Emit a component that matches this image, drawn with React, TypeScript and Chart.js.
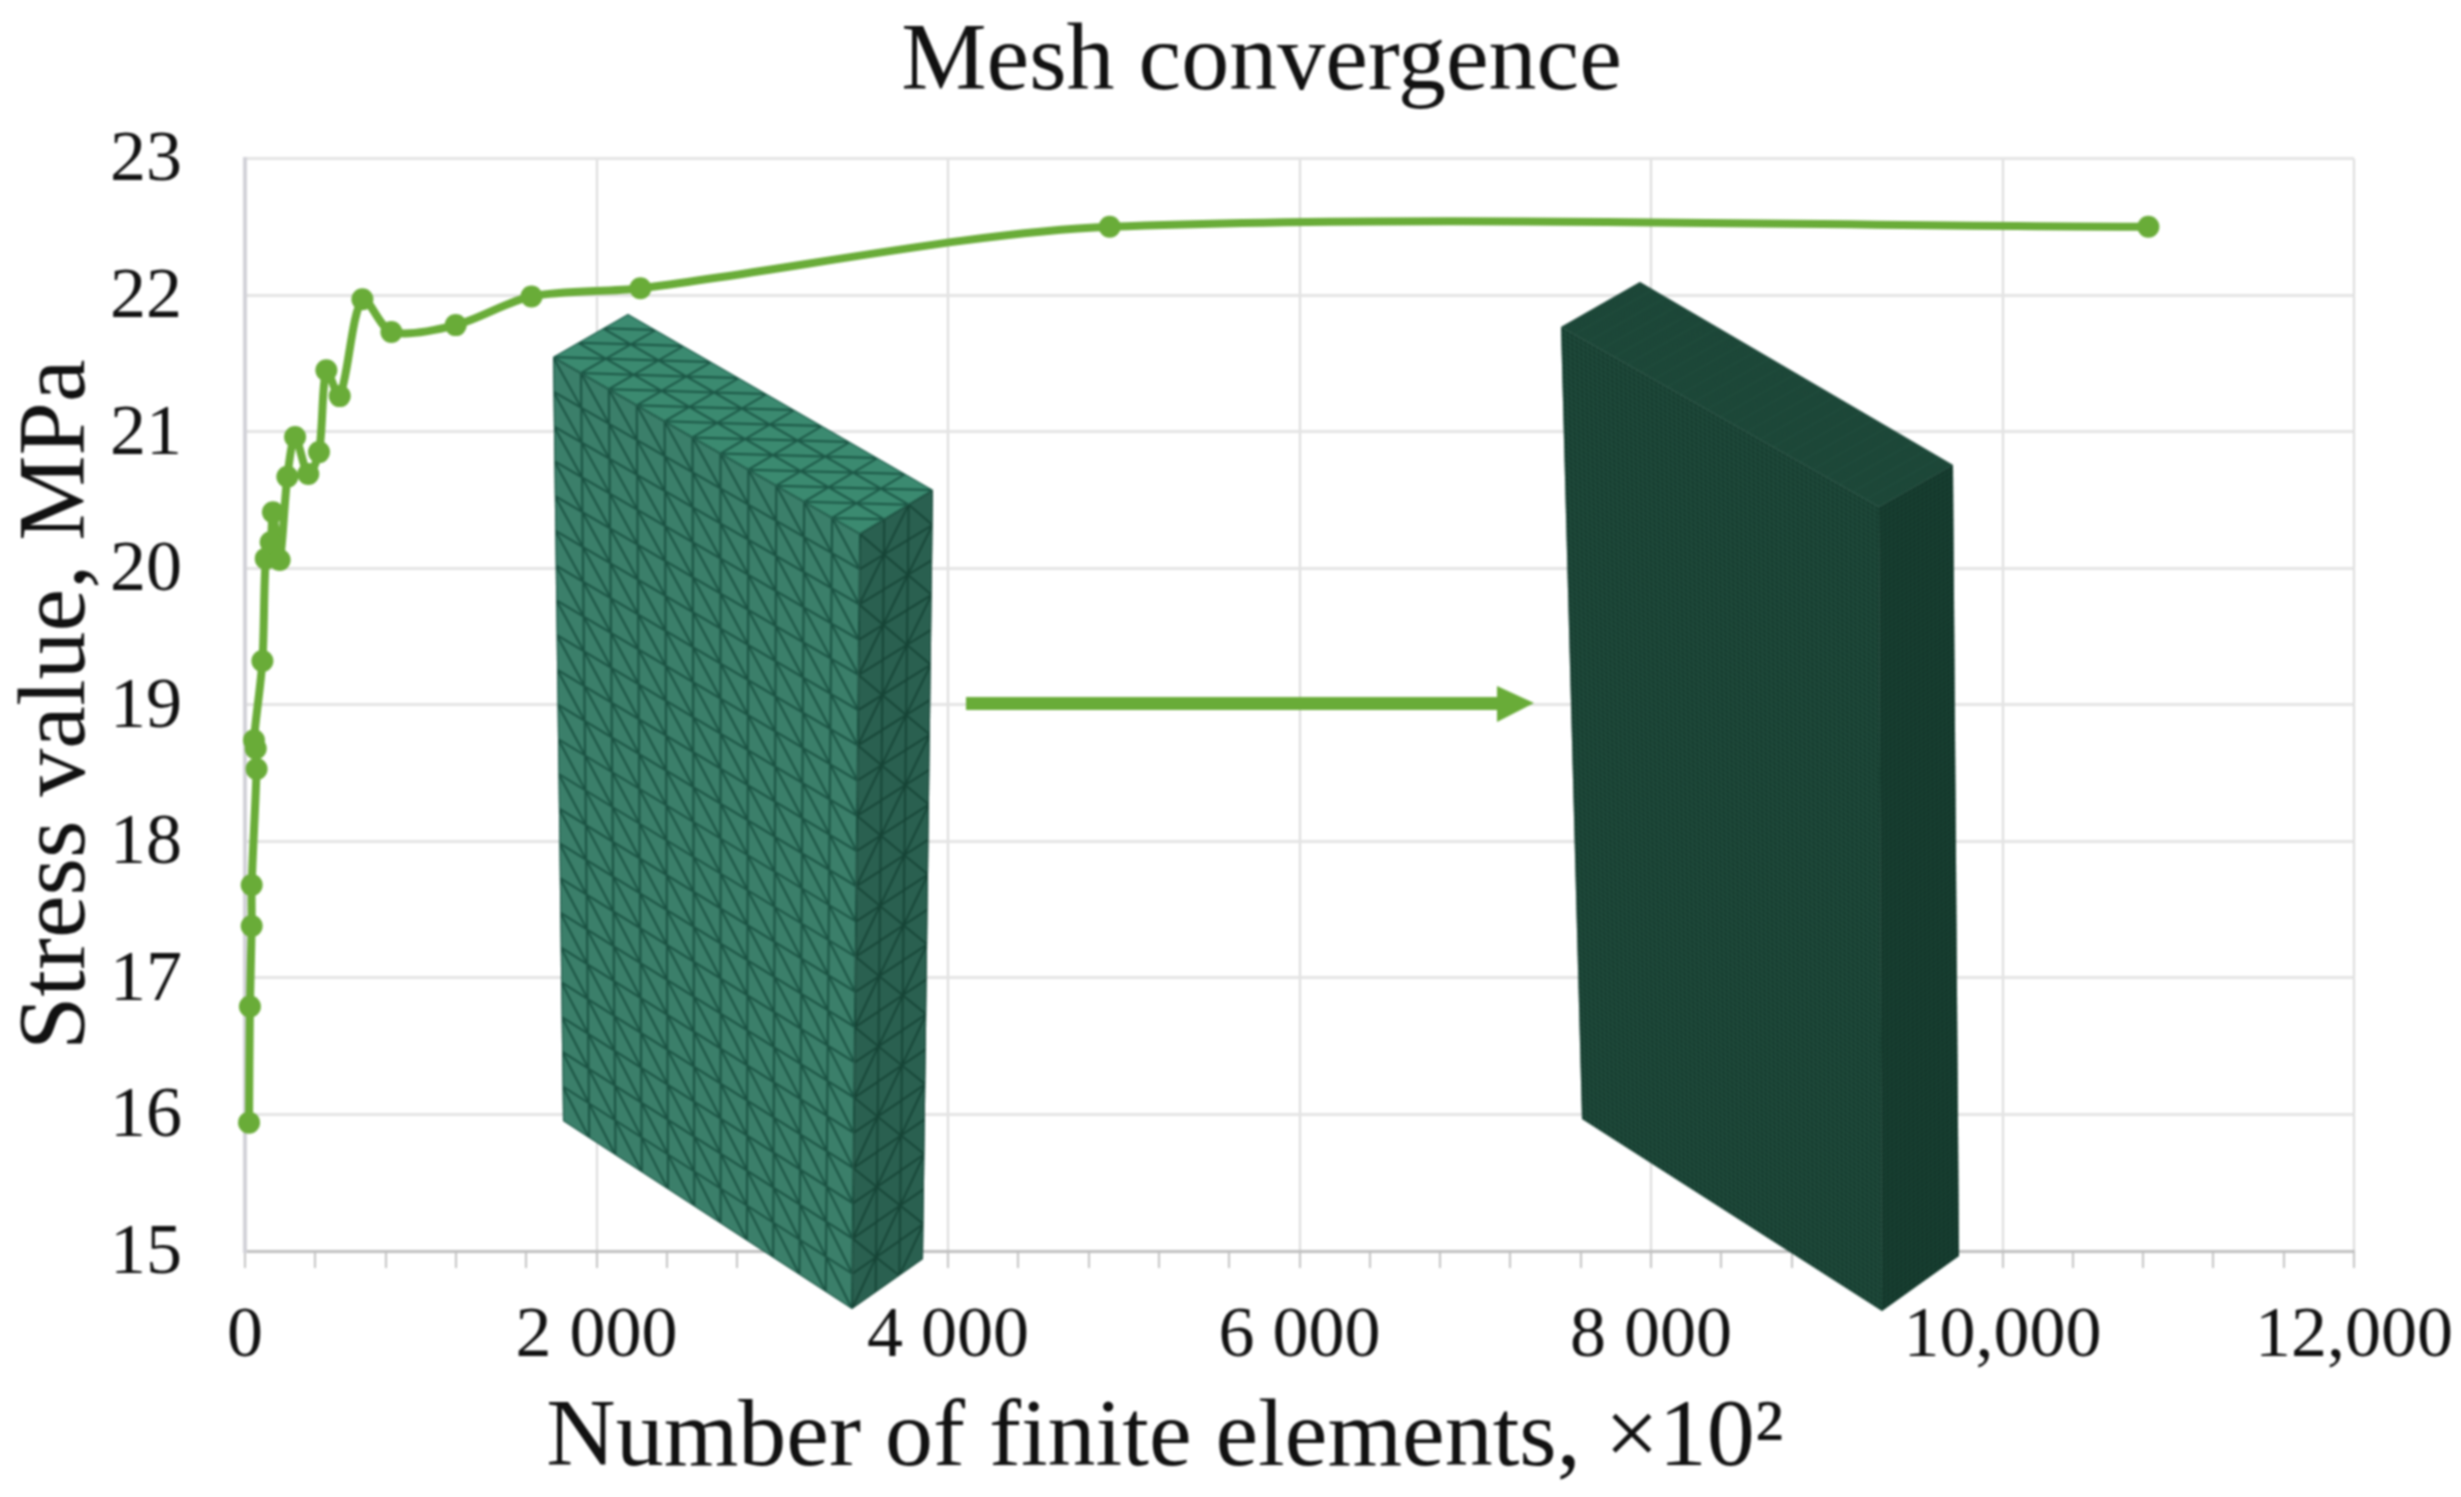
import React, { useEffect, useRef } from "react";
import { Chart, registerables } from "chart.js";

Chart.register(...registerables);

const xValues = [23, 28, 38, 38, 66, 61, 51, 99, 118, 146, 159, 197, 241, 285, 360, 421, 463, 539, 668, 833, 1199, 1630, 2250, 4920, 10830];
const yValues = [15.94, 16.79, 17.38, 17.68, 18.53, 18.68, 18.74, 19.32, 20.07, 20.19, 20.41, 20.06, 20.67, 20.96, 20.69, 20.85, 21.45, 21.26, 21.97, 21.73, 21.78, 21.99, 22.05, 22.5, 22.5];
const xTickLabels = ["0", "2 000", "4 000", "6 000", "8 000", "10,000", "12,000"];
const chartTitle = "Mesh convergence";
const xTitle = "Number of finite elements, ×10²";
const yTitle = "Stress value, MPa";

const W = 2461;
const H = 1497;
const SERIF = '"Liberation Serif", serif';
const GREEN = "#69ac38";

type P = [number, number];
const mix = (a: P, b: P, t: number): P => [a[0] + (b[0] - a[0]) * t, a[1] + (b[1] - a[1]) * t];

function face(
  ctx: CanvasRenderingContext2D,
  a: P, b: P, c: P, d: P,
  cols: number, rows: number,
  fill: string, stroke: string, width: number,
  diag: "down" | "up" | "alt" | "none"
) {
  const at = (u: number, v: number) => mix(mix(a, b, u), mix(d, c, u), v);
  ctx.beginPath();
  ctx.moveTo(...a); ctx.lineTo(...b); ctx.lineTo(...c); ctx.lineTo(...d);
  ctx.closePath();
  ctx.fillStyle = fill;
  ctx.fill();
  ctx.save();
  ctx.clip();
  ctx.strokeStyle = stroke;
  ctx.lineWidth = width;
  ctx.beginPath();
  for (let i = 0; i <= cols; i++) {
    ctx.moveTo(...at(i / cols, 0)); ctx.lineTo(...at(i / cols, 1));
  }
  for (let j = 0; j <= rows; j++) {
    ctx.moveTo(...at(0, j / rows)); ctx.lineTo(...at(1, j / rows));
  }
  if (diag !== "none") {
    for (let i = 0; i < cols; i++) {
      for (let j = 0; j < rows; j++) {
        const down = diag === "down" || (diag === "alt" && (i + j) % 2 === 0);
        if (down) {
          ctx.moveTo(...at(i / cols, j / rows)); ctx.lineTo(...at((i + 1) / cols, (j + 1) / rows));
        } else {
          ctx.moveTo(...at((i + 1) / cols, j / rows)); ctx.lineTo(...at(i / cols, (j + 1) / rows));
        }
      }
    }
  }
  ctx.stroke();
  ctx.restore();
}

const illustrationPlugin = {
  id: "illustration",
  afterLayout(chart: any) {
    chart.titleBlock.left = 62;
    chart.titleBlock.right = W;
  },
  afterDraw(chart: any) {
    const ctx: CanvasRenderingContext2D = chart.ctx;
    ctx.save();
    // coarse mesh block
    face(ctx, [553, 357], [628, 314], [933, 490], [860, 534], 3, 11, "#3b8a70", "#1c5746", 2, "down");
    face(ctx, [553, 357], [860, 534], [852, 1309], [563, 1121], 11, 22, "#3b7f6a", "#1b5343", 2, "down");
    face(ctx, [860, 534], [933, 490], [923, 1259], [852, 1309], 3, 22, "#2a6050", "#164436", 1.8, "alt");
    // fine mesh block
    face(ctx, [1561, 327], [1640, 282], [1953, 465], [1879, 507], 72, 24, "#163c2f", "#265544", 0.6, "none");
    face(ctx, [1561, 327], [1879, 507], [1882, 1311], [1582, 1119], 72, 170, "#163c2f", "#2b5a49", 0.7, "none");
    face(ctx, [1879, 507], [1953, 465], [1959, 1256], [1882, 1311], 18, 170, "#13362a", "#1f4a3b", 0.7, "none");
    // arrow
    ctx.fillStyle = GREEN;
    ctx.fillRect(966, 697, 535, 13);
    ctx.beginPath();
    ctx.moveTo(1497, 686); ctx.lineTo(1534, 703); ctx.lineTo(1497, 722);
    ctx.closePath();
    ctx.fill();
    ctx.restore();
  },
};

export default function App() {
  const ref = useRef<HTMLCanvasElement>(null);
  useEffect(() => {
    const chart = new Chart(ref.current!, {
      type: "scatter",
      data: {
        datasets: [{
          data: xValues.map((x, i) => ({ x, y: yValues[i] })),
          showLine: true,
          borderColor: GREEN,
          backgroundColor: GREEN,
          borderWidth: 8,
          pointRadius: 11,
          pointBorderWidth: 0,
          tension: 0.3,
          clip: false,
        }],
      },
      plugins: [illustrationPlugin],
      options: {
        animation: false,
        responsive: false,
        devicePixelRatio: 1,
        layout: { autoPadding: false, padding: { left: 0, top: 0, right: 107, bottom: 0 } },
        plugins: {
          legend: { display: false },
          tooltip: { enabled: false },
          title: {
            display: true,
            text: chartTitle,
            color: "#111",
            font: { family: SERIF, size: 96, weight: "normal", lineHeight: 1 },
            padding: { top: 16, bottom: 46.5 },
          },
        },
        scales: {
          x: {
            type: "linear",
            min: 0,
            max: 12000,
            afterFit(s: any) {
              s.height = 246;
              s.paddingLeft = 0;
              s.paddingRight = 0;
              if (!s._titleWrapped) {
                s._titleWrapped = true;
                const draw = s.drawTitle;
                s.drawTitle = function () {
                  const l = this.left;
                  const r = this.right;
                  this.left = 245;
                  this.right = 2085;
                  draw.call(this);
                  this.left = l;
                  this.right = r;
                };
              }
            },
            ticks: {
              stepSize: 400,
              autoSkip: false,
              maxRotation: 0,
              minRotation: 0,
              padding: 26,
              color: "#111",
              font: { family: SERIF, size: 72 },
              callback: (v: any) => (Number(v) % 2000 === 0 ? xTickLabels[Number(v) / 2000] : ""),
            },
            grid: {
              color: (c: any) => (c.tick && c.tick.value % 2000 === 0 ? "#dcdcdc" : "rgba(0,0,0,0)"),
              tickColor: "#c4c4c4",
              lineWidth: 2,
              tickLength: 17,
              drawTicks: true,
            },
            border: { color: "#c0c0c0", width: 3 },
            title: {
              display: true,
              text: xTitle,
              color: "#111",
              font: { family: SERIF, size: 96, lineHeight: 1 },
              padding: { top: 0, bottom: 9 },
            },
          },
          y: {
            type: "linear",
            min: 15,
            max: 23,
            afterFit(s: any) {
              s.width = 245;
              s.paddingTop = 0;
              s.paddingBottom = 0;
              if (!s._labelsWrapped) {
                s._labelsWrapped = true;
                const compute = s._computeLabelItems;
                s._computeLabelItems = function (area: any) {
                  const items = compute.call(this, area);
                  items.forEach((it: any) => {
                    it.options.translation = [it.options.translation[0], it.options.translation[1] + 3];
                  });
                  return items;
                };
              }
            },
            ticks: {
              stepSize: 1,
              padding: 63,
              color: "#111",
              font: { family: SERIF, size: 72 },
            },
            grid: { color: "#e4e4e4", lineWidth: 3, drawTicks: false },
            border: { color: "#d2d2d8", width: 4 },
            title: {
              display: true,
              text: yTitle,
              color: "#111",
              font: { family: SERIF, size: 96, lineHeight: 1 },
              padding: { top: 11, bottom: 0 },
            },
          },
        },
      },
    } as any);
    return () => chart.destroy();
  }, []);
  return (
    <div style={{ position: "absolute", left: 0, top: 0, width: W, height: H, background: "#fff", overflow: "hidden" }}>
      <canvas ref={ref} width={W} height={H} style={{ display: "block", filter: "blur(0.8px)" }} />
    </div>
  );
}
